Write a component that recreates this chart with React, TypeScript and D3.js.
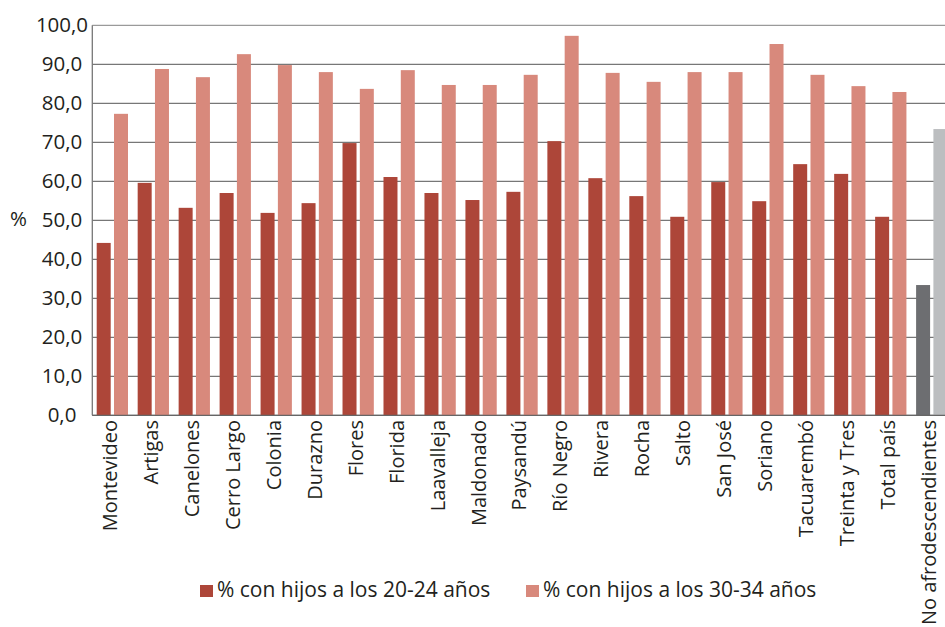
import React from "react";
import * as d3 from "d3";

const categories = [
  "Montevideo", "Artigas", "Canelones", "Cerro Largo", "Colonia", "Durazno",
  "Flores", "Florida", "Laavalleja", "Maldonado", "Paysandú", "Río Negro",
  "Rivera", "Rocha", "Salto", "San José", "Soriano", "Tacuarembó",
  "Treinta y Tres", "Total país", "No afrodescendientes",
];
const series2024 = [
  44.2, 59.6, 53.2, 57.0, 51.9, 54.4, 69.8, 61.1, 57.0, 55.2, 57.3, 70.3,
  60.8, 56.2, 50.9, 59.8, 54.9, 64.4, 61.9, 50.9, 33.4,
];
const series3034 = [
  77.3, 88.8, 86.7, 92.6, 89.8, 88.0, 83.7, 88.5, 84.7, 84.7, 87.3, 97.3,
  87.8, 85.5, 88.0, 88.0, 95.2, 87.3, 84.4, 82.9, 73.4,
];
const legendLabels = ["% con hijos a los 20-24 años", "% con hijos a los 30-34 años"];
const yTicks = [0, 10, 20, 30, 40, 50, 60, 70, 80, 90, 100];

const W = 945;
const H = 627;
const FONT = "'Open Sans', sans-serif";
const C_DARK = "#ad4639";
const C_LIGHT = "#d8897c";
const C_GDARK = "#6d6e71";
const C_GLIGHT = "#bcbec0";

export default function App() {
  const x0 = 92.3;
  const step = 40.97;
  const x = d3.scaleBand<string>().domain(categories).range([x0, x0 + step * categories.length]).paddingInner(0).paddingOuter(0);
  const y = d3.scaleLinear().domain([0, 100]).range([415.3, 25.3]);
  const barW = 14;
  const gap = 3.3;
  const off = 4.4;
  const fmt = (v: number) => d3.format(".1f")(v).replace(".", ",");
  const last = categories.length - 1;

  return (
    <svg width={W} height={H} style={{ position: "absolute", left: 0, top: 0, background: "#fff" }}>
      {/* gridlines */}
      {yTicks.map((t) => (
        <line key={t} x1={x0} x2={W} y1={y(t)} y2={y(t)} stroke={t === 100 ? "#9a9a9a" : "#777"} strokeWidth={1.3} />
      ))}
      {/* bars */}
      {categories.map((c, i) => {
        const bx = (x(c) as number) + off;
        return (
          <g key={c}>
            <rect x={bx} y={y(series2024[i])} width={barW} height={y(0) - y(series2024[i])} fill={i === last ? C_GDARK : C_DARK} />
            <rect x={bx + barW + gap} y={y(series3034[i])} width={barW} height={y(0) - y(series3034[i])} fill={i === last ? C_GLIGHT : C_LIGHT} />
          </g>
        );
      })}
      {/* axes lines */}
      <line x1={x0} x2={x0} y1={y(100)} y2={y(0)} stroke="#777" strokeWidth={1.3} />
      <line x1={x0} x2={W} y1={y(0)} y2={y(0)} stroke="#666" strokeWidth={1.3} />
      {/* y tick labels */}
      {yTicks.map((t) => (
        <text key={t} x={62} y={y(t)} dy="0.33em" textAnchor="middle" fontFamily={FONT} fontSize={20.5} fill="#231f20">
          {fmt(t)}
        </text>
      ))}
      <text x={18.5} y={219} dy="0.35em" textAnchor="middle" fontFamily={FONT} fontSize={20.5} fill="#231f20">%</text>
      {/* x labels */}
      {categories.map((c) => {
        const cx = (x(c) as number) + x.bandwidth() / 2 - 3;
        return (
          <text key={c} transform={`translate(${cx},420) rotate(-90)`} dy="0.35em" textAnchor="end" fontFamily={FONT} fontSize={20} fill="#231f20">
            {c}
          </text>
        );
      })}
      {/* legend */}
      <rect x={200} y={585} width={13} height={12} fill={C_DARK} />
      <text x={217} y={597} fontFamily={FONT} fontSize={21} fill="#231f20">{legendLabels[0]}</text>
      <rect x={526} y={585} width={13} height={12} fill={C_LIGHT} />
      <text x={543} y={597} fontFamily={FONT} fontSize={21} fill="#231f20">{legendLabels[1]}</text>
    </svg>
  );
}
